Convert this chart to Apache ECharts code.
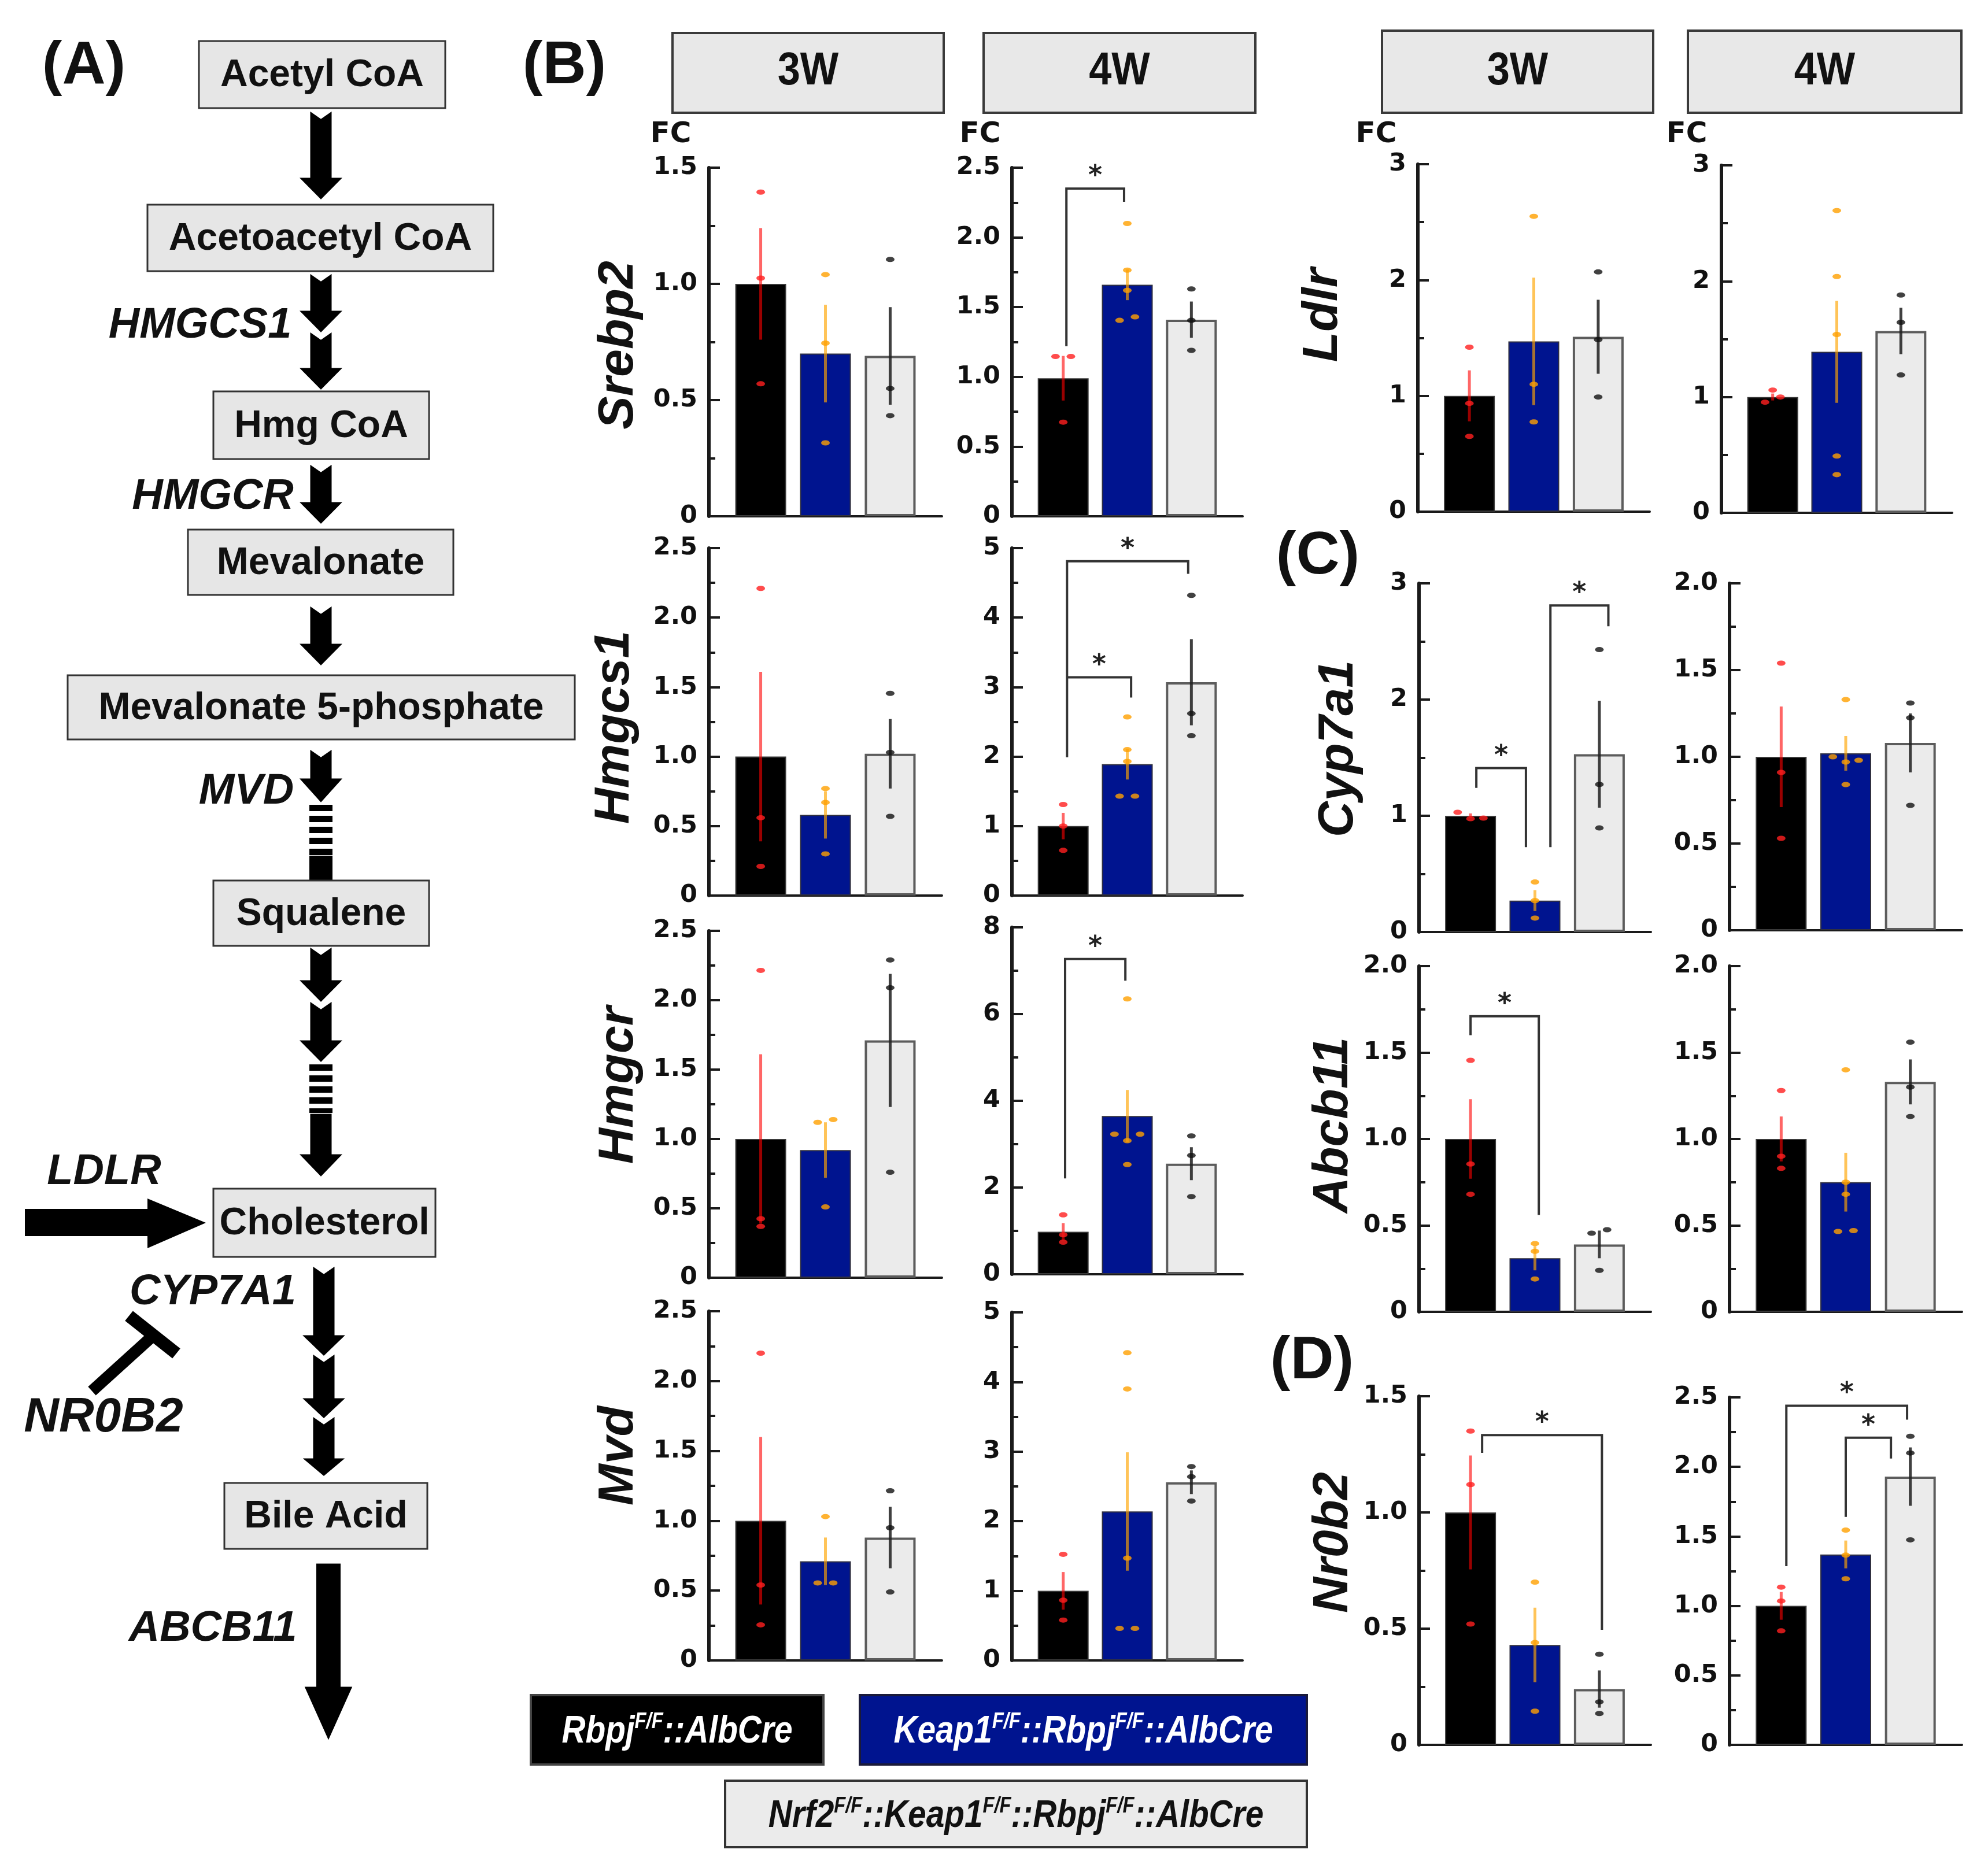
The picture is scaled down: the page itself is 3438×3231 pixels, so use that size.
<!DOCTYPE html>
<html><head><meta charset="utf-8">
<script src="https://cdn.jsdelivr.net/npm/echarts@6/dist/echarts.min.js"></script>
<style>html,body{margin:0;padding:0;background:#fff}#c{width:3438px;height:3231px}</style>
</head><body><div id="c"></div>
<script>
// ===================== DATA =====================
const panelGenes = ['Srebp2','Srebp2','Hmgcs1','Hmgcs1','Hmgcr','Hmgcr','Mvd','Mvd',
                    'Ldlr','Ldlr','Cyp7a1','Cyp7a1','Abcb11','Abcb11','Nr0b2','Nr0b2'];
const panelAges  = ['3W','4W','3W','4W','3W','4W','3W','4W','3W','4W','3W','4W','3W','4W','3W','4W'];
const yMax  = [1.5,2.5, 2.5,5, 2.5,8, 2.5,5, 3,3, 3,2, 2,2, 1.5,2.5];
const yStep = [0.5,0.5, 0.5,1, 0.5,2, 0.5,1, 1,1, 1,0.5, 0.5,0.5, 0.5,0.5];
const groups = ['Rbpj::AlbCre','Keap1::Rbpj::AlbCre','Nrf2::Keap1::Rbpj::AlbCre'];
// bar means [control, Keap1, Nrf2] per panel
const barMeans = [
  [1.00,0.70,0.69],[0.99,1.66,1.41],
  [1.00,0.58,1.02],[1.00,1.89,3.07],
  [1.00,0.92,1.71],[0.98,3.65,2.55],
  [1.00,0.71,0.88],[1.00,2.14,2.56],
  [1.00,1.47,1.51],[1.00,1.39,1.57],
  [1.00,0.27,1.53],[1.00,1.02,1.08],
  [1.00,0.31,0.39],[1.00,0.75,1.33],
  [1.00,0.43,0.24],[1.00,1.37,1.93]
];
const barErrors = [
  [0.24,0.21,0.21],[0.16,0.11,0.13],
  [0.61,0.17,0.25],[0.19,0.22,0.62],
  [0.61,0.20,0.48],[0.20,0.60,0.38],
  [0.60,0.17,0.22],[0.27,0.85,0.17],
  [0.22,0.55,0.32],[0.03,0.44,0.20],
  [0.02,0.09,0.46],[0.29,0.10,0.17],
  [0.23,0.07,0.08],[0.13,0.17,0.13],
  [0.245,0.16,0.08],[0.10,0.10,0.21]
];
const dotsControl = [
  [1.395,1.025,0.57],[1.146,1.146,0.675],
  [2.21,0.56,0.21],[1.31,1.00,0.65],
  [2.215,0.425,0.37],[1.37,0.91,0.74],
  [2.20,0.54,0.255],[1.525,0.865,0.58],
  [1.42,0.935,0.65],[1.06,1.00,0.955],
  [1.03,0.98,0.975],[1.54,0.91,0.53],
  [1.455,0.855,0.68],[1.28,0.90,0.83],
  [1.35,1.12,0.52],[1.135,1.035,0.82]
];
const dotsKeap1 = [
  [1.04,0.745,0.316],[2.10,1.765,1.62,1.43,1.405],
  [0.77,0.67,0.30],[2.57,2.10,1.93,1.43,1.43],
  [1.14,1.12,0.51],[6.35,3.23,3.23,3.08,2.53],
  [1.03,0.555,0.555],[4.42,3.90,1.47,0.46,0.46],
  [2.55,1.10,0.775],[2.61,2.04,1.54,0.49,0.33],
  [0.43,0.27,0.12],[1.33,1.00,0.97,0.98,0.84],
  [0.395,0.35,0.19],[1.40,0.75,0.68,0.465,0.47],
  [0.70,0.44,0.145],[1.545,1.365,1.195]
];
const dotsNrf2 = [
  [1.105,0.55,0.433],[1.63,1.405,1.19],
  [1.455,1.03,0.57],[4.32,2.62,2.30],
  [2.29,2.09,0.76],[3.19,2.74,1.79],
  [1.215,0.95,0.49],[2.785,2.64,2.29],
  [2.07,1.485,0.99],[1.88,1.645,1.19],
  [2.43,1.27,0.895],[1.31,1.225,0.72],
  [0.475,0.455,0.24],[1.56,1.30,1.13],
  [0.39,0.185,0.135],[2.22,2.10,1.475]
];
// significance brackets: [panel, xLeft, xRight, yTop, yLeftEnd, yRightEnd]
const sigBrackets = [
  [1, 0.05,0.95, 2.35, 1.22, 2.255],
  [3, 0.06,1.95, 4.81, 1.99, 4.63],
  [3, 0.06,1.06, 3.14, 3.14, 2.85],
  [5, 0.03,0.97, 7.27, 2.21, 6.77],
  [10,0.09,0.86, 1.41, 1.24, 0.73],
  [10,1.24,2.14, 2.81, 0.73, 2.63],
  [12,0.00,1.06, 1.71, 1.60, 0.56],
  [14,0.18,2.04, 1.333,1.256,0.495],
  [15,0.08,1.95, 2.44, 1.285,2.34],
  [15,1.00,1.70, 2.21, 1.64, 2.06]
];
const pathwayNodes = ['Acetyl CoA','Acetoacetyl CoA','Hmg CoA','Mevalonate','Mevalonate 5-phosphate','Squalene','Cholesterol','Bile Acid'];
const enzymeLabels = ['HMGCS1','HMGCR','MVD','LDLR','CYP7A1','NR0B2','ABCB11'];
const headerLabels = ['3W','4W','3W','4W'];
const panelLetters = ['(A)','(B)','(C)','(D)'];

// ===================== LAYOUT / STYLE =====================
const gridBoxes = [
  [1226,1629,290,893],[1750,2149,290,893],
  [1226,1629,948,1549],[1750,2149,948,1549],
  [1226,1629,1610,2210],[1750,2149,1604,2204],
  [1226,1629,2268,2872],[1750,2149,2270,2872],
  [2452,2853,284,885],[2977,3376,286,887],
  [2454,2855,1009,1612],[2991,3393,1009,1609],
  [2454,2855,1671,2269],[2991,3393,1671,2269],
  [2454,2855,2415,3018],[2991,3393,2417,3018]
];
const barFills = ['#000000','#00148f','#ebebeb'];
const barBorders = ['#3a3a3a','#303040','#5c5c5c'];
const barBorderW = [2,2,4];
const errColors = ['rgba(255,0,0,0.6)','rgba(255,165,0,0.65)','rgba(30,30,30,0.85)'];
const dotColors = ['#ff1f1f','#ffa000','#111111'];
const AX = '#1a1a1a';

function spread(values, ymax){
  const thr = 0.02*ymax;
  const idx = values.map((v,i)=>i).sort((a,b)=>values[a]-values[b]);
  const offs = new Array(values.length).fill(0);
  let cl = [idx[0]];
  const flush = ()=>{
    const n = cl.length;
    if(n===2){ offs[cl[0]]=-0.12; offs[cl[1]]=0.12; }
    else if(n>=3){ const pat=[0,0.2,-0.2,0.4,-0.4]; cl.forEach((c,j)=>offs[c]=pat[j]||0); }
  };
  for(let j=1;j<idx.length;j++){
    if(values[idx[j]]-values[idx[j-1]]<=thr) cl.push(idx[j]); else { flush(); cl=[idx[j]]; }
  }
  flush();
  return offs;
}

const grids=[], xAxes=[], yAxes=[], series=[];
panelGenes.forEach((g,i)=>{
  const [l,r,t,b] = gridBoxes[i];
  grids.push({left:l, top:t, width:r-l, height:b-t, outerBoundsMode:'none', containLabel:false});
  xAxes.push({type:'value', gridIndex:i, min:-0.8, max:2.8, position:'bottom',
    axisLine:{show:true, onZero:false, lineStyle:{color:AX, width:4}},
    axisTick:{show:false}, axisLabel:{show:false}, splitLine:{show:false}});
  const step = yStep[i];
  yAxes.push({type:'value', gridIndex:i, min:0, max:yMax[i], interval:step, position:'left',
    axisLine:{show:true, onZero:false, lineStyle:{color:AX, width:6}},
    axisTick:{show:true, inside:true, length:19, lineStyle:{color:AX, width:4}},
    minorTick:{show:true, splitNumber:2, length:11, lineStyle:{color:AX, width:4}},
    splitLine:{show:false}, minorSplitLine:{show:false},
    axisLabel:{margin:20, fontFamily:'DejaVu Sans', fontWeight:'bold', fontSize:43, color:'#111',
      formatter:(v)=> Math.abs(v)<1e-9 ? '0' : (step<1 ? Number(v).toFixed(1) : String(Math.round(v)))}});
  // bars
  series.push({type:'bar', xAxisIndex:i, yAxisIndex:i, barWidth:88, z:2, silent:true,
    data: barMeans[i].map((m,k)=>({value:[k,m], itemStyle:{color:barFills[k], borderColor:barBorders[k], borderWidth:barBorderW[k]}}))});
  // error bars
  series.push({type:'custom', xAxisIndex:i, yAxisIndex:i, z:3, silent:true,
    data: barMeans[i].map((m,k)=>[k,m,barErrors[i][k]]),
    renderItem:(params,api)=>{
      const x=api.value(0), m=api.value(1), e=api.value(2);
      const p1=api.coord([x,Math.max(0,m-e)]), p2=api.coord([x,m+e]);
      return {type:'line', shape:{x1:p1[0],y1:p1[1],x2:p2[0],y2:p2[1]},
        style:{stroke:errColors[params.dataIndex], lineWidth:5}};
    }});
  // dots
  const dotData=[];
  [dotsControl[i], dotsKeap1[i], dotsNrf2[i]].forEach((vals,k)=>{
    const offs = spread(vals, yMax[i]);
    vals.forEach((v,j)=>dotData.push({value:[k+offs[j], v], itemStyle:{color:dotColors[k]}}));
  });
  series.push({type:'scatter', xAxisIndex:i, yAxisIndex:i, z:4, silent:true,
    symbol:'circle', symbolSize:[15,9], data:dotData});
  // brackets
  const br = sigBrackets.filter(s=>s[0]===i).map(s=>s.slice(1));
  if(br.length){
    series.push({type:'custom', xAxisIndex:i, yAxisIndex:i, z:5, silent:true, clip:false,
      data: br,
      renderItem:(params,api)=>{
        const x1=api.value(0), x2=api.value(1), yt=api.value(2), yl=api.value(3), yr=api.value(4);
        const a=api.coord([x1,yl]), b=api.coord([x1,yt]), c=api.coord([x2,yt]), d=api.coord([x2,yr]);
        return {type:'group', children:[
          {type:'polyline', shape:{points:[a,b,c,d]}, style:{stroke:'#333', lineWidth:4, fill:null}},
          {type:'text', style:{x:(b[0]+c[0])/2, y:b[1]-20, text:'*', font:'bold 46px "DejaVu Sans"', fill:'#222', textAlign:'center', textVerticalAlign:'middle', align:'center', verticalAlign:'middle'}}
        ]};
      }});
  }
});

// ===================== GRAPHICS =====================
const G = [];
function txt(x,y,text,font,fill,extra){
  return Object.assign({type:'text', x:x, y:y, z:10,
    style:{text:text, font:font, fill:fill||'#111', textAlign:'center', textVerticalAlign:'middle', align:'center', verticalAlign:'middle'}}, extra||{});
}
// panel letters
const letterPos = [[145,115],[976,115],[2279,963],[2269,2355]];
panelLetters.forEach((t,i)=>G.push(txt(letterPos[i][0],letterPos[i][1],t,'bold 104px "Liberation Sans"','#111')));
// headers
const headerBoxes = [[1163,57,1632,195],[1701,57,2171,195],[2390,53,2859,195],[2919,53,3392,195]];
headerBoxes.forEach((bx,i)=>{
  G.push({type:'rect', z:5, shape:{x:bx[0],y:bx[1],width:bx[2]-bx[0],height:bx[3]-bx[1]},
    style:{fill:'#e8e8e8', stroke:'#3a3a3a', lineWidth:4}});
  G.push(txt((bx[0]+bx[2])/2, 124, headerLabels[i], 'bold 80px "Liberation Sans"', '#111', {scaleX:0.88}));
});
// FC labels
[[1160,233],[1695,233],[2380,233],[2917,233]].forEach(p=>G.push(txt(p[0],p[1],'FC','bold 50px "DejaVu Sans"','#111')));
// gene labels (rotated)
const genePos = {Srebp2:[1070,597], Hmgcs1:[1063,1258], Hmgcr:[1070,1877], Mvd:[1070,2518],
                 Ldlr:[2288,545], Cyp7a1:[2315,1295], Abcb11:[2306,1946], Nr0b2:[2306,2668]};
[...new Set(panelGenes)].forEach(g=>{
  const p = genePos[g];
  G.push(txt(p[0],p[1],g,'italic bold 86px "Liberation Sans"','#111',{rotation:Math.PI/2}));
});
// pathway boxes
const nodeBoxes = [[344,71,770,187],[255,354,853,469],[369,677,742,794],[325,916,784,1029],
                   [117,1168,994,1279],[369,1523,742,1636],[369,2056,753,2174],[388,2565,739,2679]];
// arrows
function downArrow(cx, top, hs, tip, sw, hw, notch){
  const pts = notch ? [[cx-sw/2,top],[cx,top+notch],[cx+sw/2,top]] : [[cx-sw/2,top],[cx+sw/2,top]];
  pts.push([cx+sw/2,hs],[cx+hw/2,hs],[cx,tip],[cx-hw/2,hs],[cx-sw/2,hs]);
  return {type:'polygon', z:6, shape:{points:pts}, style:{fill:'#000', stroke:'#fff', lineWidth:3}};
}
const arrowList = [
  [555,190,306,347,14],[555,471,536,577,14],[555,572,635,676,14],[555,801,867,908,14],
  [555,1046,1112,1153,14],[555,1294,1345,1390,14],
  [555,1636,1694,1735,14],[555,1730,1798,1839,14],[555,1925,1995,2037,0],
  [560,2188,2308,2347,14],[560,2340,2417,2455,14],[560,2448,2521,2555,14]
];
arrowList.forEach(a=>G.push(downArrow(a[0],a[1],a[2],a[3],40,81,a[4])));
// striped shafts
function stripes(cx, y0, y1){
  for(let y=y0; y<y1; y+=19){
    G.push({type:'rect', z:6, shape:{x:cx-20, y:y, width:40, height:Math.min(11,y1-y)}, style:{fill:'#000'}});
  }
}
stripes(555,1392,1480);
G.push({type:'rect', z:6, shape:{x:535,y:1480,width:40,height:43}, style:{fill:'#000'}});
stripes(555,1841,1925);
// output arrow from bile acid
G.push(downArrow(568,2703,2916,3013,45,87,0));
// LDLR influx arrow
G.push({type:'polygon', z:6, shape:{points:[[43,2091],[255,2091],[255,2073],[356,2115],[255,2159],[255,2138],[43,2138]]}, style:{fill:'#000'}});
// NR0B2 inhibition
G.push({type:'line', z:6, shape:{x1:159,y1:2406,x2:265,y2:2310}, style:{stroke:'#000', lineWidth:20}});
G.push({type:'line', z:6, shape:{x1:223,y1:2276,x2:305,y2:2341}, style:{stroke:'#000', lineWidth:22}});
nodeBoxes.forEach((bx,i)=>{
  G.push({type:'rect', z:7, shape:{x:bx[0],y:bx[1],width:bx[2]-bx[0],height:bx[3]-bx[1]},
    style:{fill:'#e6e6e6', stroke:'#333', lineWidth:3}});
  G.push(txt((bx[0]+bx[2])/2,(bx[1]+bx[3])/2+2,pathwayNodes[i],'bold 66px "Liberation Sans"','#111'));
});
// enzyme labels
const enzPos = [[346,564,74],[368,860,74],[426,1370,74],[180,2028,74],[368,2236,74],[179,2453,84],[368,2818,74]];
enzymeLabels.forEach((t,i)=>G.push(txt(enzPos[i][0],enzPos[i][1],t,'italic bold '+enzPos[i][2]+'px "Liberation Sans"','#111')));
// legend
const legBoxes = [[918,2932,1424,3052],[1487,2932,2260,3052],[1254,3080,2260,3195]];
const legFill = ['#000000','#00148f','#ebebeb'];
const legStroke = ['#444','#1a1a3a','#333'];
const legText = ['#ffffff','#ffffff','#111111'];
groups.forEach((g,i)=>{
  const bx = legBoxes[i];
  G.push({type:'rect', z:5, shape:{x:bx[0],y:bx[1],width:bx[2]-bx[0],height:bx[3]-bx[1]},
    style:{fill:legFill[i], stroke:legStroke[i], lineWidth:4}});
  const parts = g.split('::');
  let s = '';
  parts.forEach((p,j)=>{
    s += '{m|'+(j>0?'::':'')+p+'}';
    if(j<parts.length-1) s += '{s|F/F}';
  });
  G.push({type:'text', z:10, x:(bx[0]+bx[2])/2, y:(bx[1]+bx[3])/2+4, scaleX:0.86,
    style:{text:s, textAlign:'center', textVerticalAlign:'middle', align:'center', verticalAlign:'middle',
      rich:{
        m:{font:'italic bold 66px "Liberation Sans"', fill:legText[i], color:legText[i], lineHeight:72},
        s:{font:'italic bold 38px "Liberation Sans"', fill:legText[i], color:legText[i], lineHeight:40, verticalAlign:'top'}
      }}});
});

const chart = echarts.init(document.getElementById('c'), null, {renderer:'canvas', width:3438, height:3231});
chart.setOption({
  backgroundColor:'#ffffff',
  animation:false,
  grid:grids, xAxis:xAxes, yAxis:yAxes, series:series,
  graphic:{elements:G}
});
</script></body></html>
